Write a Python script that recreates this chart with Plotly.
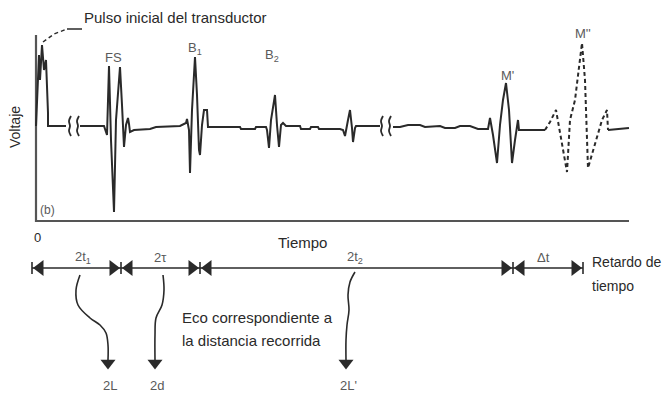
import plotly.graph_objects as go

# ---------------- data (time units / voltage units, origin = axis corner) ----------------
pulse_t = [0, 1, 3, 4, 6, 8, 10, 12, 12, 30]
pulse_v = [0, 31, 71, 46, 81, 56, 66, 13, 0, 0]

echo_t = [44, 68, 71, 73, 75, 78, 80, 82, 84, 86, 88, 90, 92, 93, 94, 98, 114, 120, 144,
          150, 151, 153, 154, 156, 158, 159, 161, 163, 164, 166, 168, 171, 172, 204, 205, 219, 220,
          230, 231, 233, 235, 238, 239, 241, 243, 245, 247, 250, 264, 265, 274, 275, 282, 283,
          304, 307, 309, 312, 314, 316, 317, 319, 320, 344]
echo_v = [0, 0, -9, 60, -14, -86, 6, 36, 59, 21, -21, 1, 8, 2, -6, -4, -3, -1, 0,
          3, 7, -4, -47, 16, 51, 69, 31, -24, -29, 1, 16, 16, -1, -1, -3, -3, -1,
          -1, -4, -22, 6, 26, 31, 1, -21, 1, 3, 0, 0, -3, -3, -1, -1, -3,
          -3, -4, -10, 6, 16, -2, -16, -2, 0, 0]

far_t = [357, 364, 372, 384, 389, 404, 409, 419, 424, 434, 442, 452, 454, 457, 461, 464,
         467, 470, 473, 476, 479, 482, 483, 509]
far_v = [-1, -1, 1, 1, -1, 0, -2, -2, 0, 0, -3, -3, 8, -9, -37, 1, 26, 43, 16, -37,
         -14, 6, -4, -4]

mpp_t = [509, 514, 520, 525, 531, 534, 539, 546, 549, 552, 559, 566, 571, 572]
mpp_v = [-4, 4, 16, -14, -46, 6, 26, 83, 46, -42, -19, 6, 16, -4]

tail_t = [572, 593]
tail_v = [-4, -2]

break_t = [35, 33, 34, 33, 35]
break_v = [10, 5, 0, -5, -10]
break_pos = [0, 8, 312, 320]

axis_t = [0, 0, 593]
axis_v = [91, -95, -95]

peak_labels = ["FS", "B<sub>1</sub>", "B<sub>2</sub>", "M'", "M''"]
peak_label_t = [77, 159, 236, 471, 547]
peak_label_v = [69, 78, 71, 51, 93]

timeline_v = -142
timeline_ticks = [-4, 85, 164, 477, 547]
segment_labels = ["2t<sub>1</sub>", "2τ", "2t<sub>2</sub>", "Δt"]
segment_label_t = [47, 124, 319, 507]

wavy1_t = [44, 40, 42, 54, 64, 70, 72, 72]
wavy1_v = [-149, -164, -179, -192, -199, -207, -219, -234]
wavy2_t = [127, 128, 126, 120, 119, 119]
wavy2_v = [-149, -164, -179, -192, -209, -234]
wavy3_t = [319, 314, 312, 313, 311, 310, 310]
wavy3_v = [-146, -156, -169, -184, -199, -214, -234]
wavy_labels = ["2L", "2d", "2L'"]

leader_dash_t = [7, 18, 31]
leader_dash_v = [84, 92, 97]
leader_solid_t = [31, 46]
leader_solid_v = [97, 97]

# ---------------- figure ----------------
INK = "#2a2a2a"
GREY = "#5a5a5a"
FONT = "Liberation Sans, Arial, sans-serif"

fig = go.Figure()

def line(t, v, width=2, dash="solid", color=INK, shape="linear"):
    fig.add_trace(go.Scatter(x=t, y=v, mode="lines",
                             line=dict(color=color, width=width, dash=dash, shape=shape),
                             hoverinfo="skip"))

# axes of the oscillogram
line(axis_t, axis_v, width=2.2, color="#555555")

# waveform
line(pulse_t, pulse_v)
line(echo_t, echo_v)
line(far_t, far_v)
line(mpp_t, mpp_v, width=2, dash="4px,3px")
line(tail_t, tail_v)

# break marks
for p in break_pos:
    line([t + p for t in break_t], break_v, width=1.8, shape="spline")

# leader for initial pulse
line(leader_dash_t, leader_dash_v, width=1.5, dash="4px,3px")
line(leader_solid_t, leader_solid_v, width=1.5)

# timeline
line([timeline_ticks[0], timeline_ticks[-1]], [timeline_v, timeline_v], width=1.6)
tick_x, tick_y = [], []
for t in timeline_ticks:
    tick_x += [t, t, None]
    tick_y += [timeline_v + 6, timeline_v - 6, None]
line(tick_x, tick_y, width=1.6)

left_x = [a + 8 for a in timeline_ticks[:-1]]
right_x = [b - 8 for b in timeline_ticks[1:]]
fig.add_trace(go.Scatter(x=left_x, y=[timeline_v] * len(left_x), mode="markers",
                         marker=dict(symbol="triangle-left", size=14, color=INK),
                         hoverinfo="skip"))
fig.add_trace(go.Scatter(x=right_x, y=[timeline_v] * len(right_x), mode="markers",
                         marker=dict(symbol="triangle-right", size=14, color=INK),
                         hoverinfo="skip"))

# wavy arrows
for wt, wv in [(wavy1_t, wavy1_v), (wavy2_t, wavy2_v), (wavy3_t, wavy3_v)]:
    line(wt, wv, width=1.6, shape="spline")
    fig.add_trace(go.Scatter(x=[wt[-1]], y=[wv[-1] - 3], mode="markers",
                             marker=dict(symbol="triangle-down", size=13, color=INK),
                             hoverinfo="skip"))

# ---------------- text ----------------
def text(t, v, s, size=14, color=INK, xanchor="center", angle=0):
    fig.add_annotation(x=t, y=v, text=s, showarrow=False, xanchor=xanchor, yanchor="middle",
                       textangle=angle, font=dict(family=FONT, size=size, color=color))

text(46, 109, "Pulso inicial del transductor", size=15, xanchor="left")
for s, t, v in zip(peak_labels, peak_label_t, peak_label_v):
    text(t, v, s, size=13, color=GREY)
text(-21, -1, "Voltaje", size=14, angle=-90)
text(11, -84, "(b)", size=12, color=GREY)
text(1, -111, "0", size=13)
text(266, -116, "Tiempo", size=15)
for s, t in zip(segment_labels, segment_label_t):
    text(t, timeline_v + 11, s, size=13, color=GREY)
text(554, -136, "Retardo de", size=14, xanchor="left")
text(554, -160, "tiempo", size=14, xanchor="left")
text(144, -191, "Eco correspondiente a", size=15, xanchor="left")
text(144, -214, "la distancia recorrida", size=15, xanchor="left")
for s, wt in zip(wavy_labels, [wavy1_t, wavy2_t, wavy3_t]):
    text(wt[-1] + 2, -259, s, size=13, color=GREY)

fig.update_layout(
    width=664, height=394,
    margin=dict(l=0, r=0, t=0, b=0),
    paper_bgcolor="white", plot_bgcolor="white",
    showlegend=False,
    xaxis=dict(range=[-36, 628], visible=False, fixedrange=True),
    yaxis=dict(range=[-268, 126], visible=False, fixedrange=True),
)

fig.write_html("out.html", config={"displayModeBar": False},
               post_script="document.body.style.margin='0';document.body.style.overflow='hidden';")
